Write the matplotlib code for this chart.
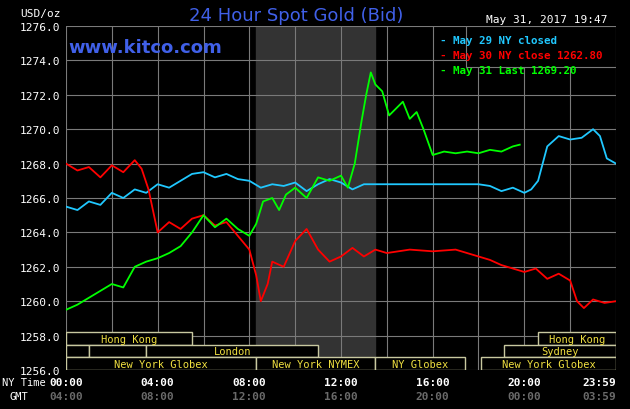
import numpy as np
import matplotlib.pyplot as plt
from matplotlib.patches import Rectangle

# hours (NY time) and prices
cyan_t = [0, 0.5, 1, 1.5, 2, 2.5, 3, 3.5, 4, 4.5, 5, 5.5, 6, 6.5, 7, 7.5, 8, 8.5, 9, 9.5, 10, 10.5, 11, 11.5, 12, 12.5, 13, 14, 15, 16, 17, 18, 18.5, 19, 19.5, 20, 20.3, 20.6, 21, 21.5, 22, 22.5, 23, 23.3, 23.6, 24]
cyan_v = [1265.5, 1265.3, 1265.8, 1265.6, 1266.3, 1266.0, 1266.5, 1266.3, 1266.8, 1266.6, 1267.0, 1267.4, 1267.5, 1267.2, 1267.4, 1267.1, 1267.0, 1266.6, 1266.8, 1266.7, 1266.9, 1266.4, 1266.8, 1267.1, 1266.9, 1266.5, 1266.8, 1266.8, 1266.8, 1266.8, 1266.8, 1266.8, 1266.7, 1266.4, 1266.6, 1266.3, 1266.5, 1267.0, 1269.0, 1269.6, 1269.4, 1269.5, 1270.0, 1269.6, 1268.3, 1268.0]
red_t = [0, 0.5, 1, 1.5, 2, 2.5, 3, 3.3, 3.6, 4, 4.5, 5, 5.5, 6, 6.5, 7, 7.5, 8, 8.3, 8.5, 8.8, 9, 9.5, 10, 10.5, 11, 11.5, 12, 12.5, 13, 13.5, 14, 15, 16, 17, 18, 18.5, 19, 19.5, 20, 20.5, 21, 21.5, 22, 22.3, 22.6, 23, 23.5, 24]
red_v = [1268.0, 1267.6, 1267.8, 1267.2, 1267.9, 1267.5, 1268.2, 1267.7, 1266.5, 1264.0, 1264.6, 1264.2, 1264.8, 1265.0, 1264.4, 1264.6, 1263.8, 1263.0, 1261.5, 1260.0, 1261.0, 1262.3, 1262.0, 1263.5, 1264.2, 1263.0, 1262.3, 1262.6, 1263.1, 1262.6, 1263.0, 1262.8, 1263.0, 1262.9, 1263.0, 1262.6, 1262.4, 1262.1, 1261.9, 1261.7, 1261.9, 1261.3, 1261.6, 1261.2, 1260.0, 1259.6, 1260.1, 1259.9, 1260.0]
green_t = [0, 0.5, 1, 1.5, 2, 2.5, 3, 3.5, 4, 4.5, 5, 5.5, 6, 6.5, 7, 7.5, 8, 8.3, 8.6, 9, 9.3, 9.6, 10, 10.5, 11, 11.5, 12, 12.3, 12.6, 12.9, 13.1, 13.3, 13.5, 13.8, 14.1, 14.4, 14.7, 15, 15.3, 15.6, 16, 16.5, 17, 17.5, 18, 18.5, 19, 19.5, 19.8]
green_v = [1259.5, 1259.8, 1260.2, 1260.6, 1261.0, 1260.8, 1262.0, 1262.3, 1262.5, 1262.8, 1263.2, 1264.0, 1265.0, 1264.3, 1264.8, 1264.2, 1263.8, 1264.5, 1265.8, 1266.0, 1265.3, 1266.2, 1266.6, 1266.0, 1267.2, 1267.0, 1267.3, 1266.6, 1268.0, 1270.5, 1272.0, 1273.3, 1272.6, 1272.2, 1270.8, 1271.2, 1271.6, 1270.6, 1271.0, 1270.0, 1268.5, 1268.7, 1268.6, 1268.7, 1268.6, 1268.8, 1268.7, 1269.0, 1269.1]

sessions = [  # (start, end, row, label)
    (0, 5.5, 2, 'Hong Kong'), (20.6, 24, 2, 'Hong Kong'),
    (0, 1.0, 1, ''), (1.0, 3.5, 1, ''), (3.5, 11.0, 1, 'London'), (19.1, 24, 1, 'Sydney'),
    (0, 8.3, 0, 'New York Globex'), (8.3, 13.5, 0, 'New York NYMEX'),
    (13.5, 17.4, 0, 'NY Globex'), (18.1, 24, 0, 'New York Globex'),
]

bg = '#000000'
grid = '#7a7a7a'
mono = 'DejaVu Sans Mono'

fig = plt.figure(figsize=(6.3, 4.1), dpi=100, facecolor=bg)
ax = fig.add_axes([66/630, 39/410, 550/630, 344/410], facecolor=bg)
ax.set_xlim(0, 24)
ax.set_ylim(1256, 1276)

ax.axvspan(8.3, 13.5, color='#333333', zorder=0)
for x in np.arange(0, 25, 2):
    ax.axvline(x, color=grid, lw=0.8, zorder=1)
for y in np.arange(1256, 1277, 2):
    ax.axhline(y, color=grid, lw=0.8, zorder=1)

row_h = 0.73
for s, e, r, lab in sessions:
    y0 = 1256 + r * row_h
    ax.add_patch(Rectangle((s, y0), e - s, row_h, fill=True, facecolor=bg,
                           edgecolor='#c8c8a0', lw=1, zorder=2))
    if lab:
        ax.text((s + e) / 2, y0 + row_h / 2, lab, color='#f0e040', fontsize=7.5,
                family=mono, ha='center', va='center', zorder=3)

ax.plot(cyan_t, cyan_v, color='#20c8ff', lw=1.3, zorder=4)
ax.plot(red_t, red_v, color='#ff0000', lw=1.3, zorder=4)
ax.plot(green_t, green_v, color='#00ff00', lw=1.3, zorder=4)

for sp in ax.spines.values():
    sp.set_visible(False)
ax.set_xticks([])
ax.set_yticks(np.arange(1256, 1277, 2))
ax.set_yticklabels([f'{v:.1f}' for v in np.arange(1256, 1277, 2)],
                   color='white', family=mono, fontsize=8)
ax.tick_params(axis='y', length=0, pad=4)

ny_labels = ['00:00', '04:00', '08:00', '12:00', '16:00', '20:00', '23:59']
gmt_labels = ['04:00', '08:00', '12:00', '16:00', '20:00', '00:00', '03:59']
pos = [0, 4, 8, 12, 16, 20, 24]
for p, a, b in zip(pos, ny_labels, gmt_labels):
    ax.text(p, 1255.3, a, color='white', family=mono, fontsize=8, weight='bold',
            ha='center' if p < 24 else 'right', va='center', clip_on=False)
    ax.text(p, 1254.5, b, color='#6a6a6a', family=mono, fontsize=8, weight='bold',
            ha='center' if p < 24 else 'right', va='center', clip_on=False)
fig.text(2/630, 1 - 383/410, 'NY Time', color='white', family=mono, fontsize=7.5, va='center')
fig.text(10/630, 1 - 397/410, 'GMT', color='white', family=mono, fontsize=7.5, va='center')

fig.text(20/630, 1 - 14/410, 'USD/oz', color='white', family=mono, fontsize=8, va='center')
fig.text(296/630, 1 - 16/410, '24 Hour Spot Gold (Bid)', color='#4060e8', fontsize=13,
         ha='center', va='center')
fig.text(68/630, 1 - 48/410, 'www.kitco.com', color='#4060e8', fontsize=13,
         weight='bold', va='center')
fig.text(608/630, 1 - 20/410, 'May 31, 2017 19:47', color='white', family=mono,
         fontsize=8, ha='right', va='center')

legend_items = [('- May 29 NY closed', '#20c8ff'),
                ('- May 30 NY close 1262.80', '#ff0000'),
                ('- May 31 Last 1269.20', '#00ff00')]
ax.add_patch(Rectangle((17.45, 1273.6), 6.55, 2.4, facecolor=bg, edgecolor=grid,
                       lw=0.8, zorder=5))
for i, (t, c) in enumerate(legend_items):
    fig.text(440/630, 1 - (41 + i * 15)/410, t, color=c, family=mono,
             fontsize=7.8, weight='bold', va='center', zorder=6)

fig.savefig('out.png', dpi=100, facecolor=bg)
